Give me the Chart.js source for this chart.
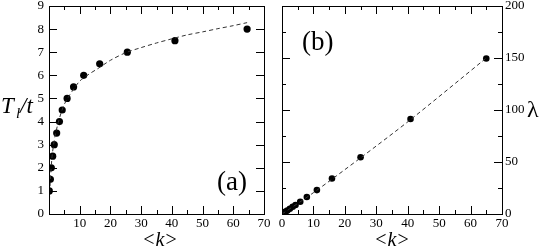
<!DOCTYPE html>
<html>
<head>
<meta charset="utf-8">
<script src="https://cdn.jsdelivr.net/npm/chart.js@4"></script>
<style>
  html, body { margin: 0; padding: 0; background: #fff; }
  #wrap { position: relative; width: 545px; height: 249px; }
  #left { position: absolute; left: 0; top: 0; }
  #right { position: absolute; left: 272px; top: 0; }
</style>
</head>
<body>
<div id="wrap">
  <canvas id="left" width="272" height="249"></canvas>
  <canvas id="right" width="273" height="249"></canvas>
</div>
<script>
// panel (a): T_l/t vs <k>
const kA = [0.1, 0.45, 0.75, 1.2, 1.7, 2.5, 3.4, 4.3, 5.9, 8.0, 11.3, 16.5, 25.5, 41, 64.5];
const tA = [1, 1.5, 2, 2.5, 3, 3.5, 4, 4.5, 5, 5.5, 6, 6.5, 7, 7.5, 8];
const fitKA = [0.15, 0.3, 0.5, 1, 1.5, 2, 3, 4, 5, 6.5, 8, 10, 13, 16, 20, 25, 30, 35, 40, 45, 50, 55, 60, 64.5];
const fitTA = [0.6, 1.1, 1.6, 2.5, 3.0, 3.4, 3.95, 4.4, 4.75, 5.1, 5.4, 5.75, 6.05, 6.3, 6.65, 6.98, 7.2, 7.4, 7.58, 7.75, 7.88, 8.02, 8.15, 8.28];

// panel (b): lambda vs <k>
const kB = [0.1, 0.45, 0.8, 1.2, 1.7, 2.5, 3.4, 4.3, 5.8, 7.9, 11.1, 15.9, 25, 40.9, 65];
const lamB = [0.2, 0.9, 1.6, 2.4, 3.4, 5.0, 6.9, 8.7, 11.8, 16.3, 23, 34.2, 54.6, 91.4, 149.5];
const fitKB = [0, 10, 25, 41, 65];
const fitLB = [0, 20.5, 54, 91, 150];

const SERIF = '"Liberation Serif", "DejaVu Serif", serif';

function pts(xs, ys) { return xs.map((x, i) => ({ x: x, y: ys[i] })); }

// frame + inward ticks on all four sides
function framePlugin(cfg) {
  return {
    id: 'frame',
    afterDraw(chart) {
      const ctx = chart.ctx;
      const a = chart.chartArea;
      const xs = chart.scales.x, ys = chart.scales.y;
      ctx.save();
      ctx.strokeStyle = '#000';
      ctx.lineWidth = 1;
      ctx.beginPath();
      for (let v = xs.min; v <= xs.max; v += cfg.xMinor) {
        const px = Math.round(xs.getPixelForValue(v)) + 0.5;
        const len = (Math.abs(v % cfg.xMajor) < 1e-6) ? 8 : 4;
        ctx.moveTo(px, a.bottom); ctx.lineTo(px, a.bottom - len);
        ctx.moveTo(px, a.top); ctx.lineTo(px, a.top + len);
      }
      for (let v = ys.min; v <= ys.max; v += cfg.yMinor) {
        const py = Math.round(ys.getPixelForValue(v)) + 0.5;
        const len = (Math.abs(v % cfg.yMajor) < 1e-6) ? 8 : 4;
        ctx.moveTo(a.left, py); ctx.lineTo(a.left + len, py);
        ctx.moveTo(a.right, py); ctx.lineTo(a.right - len, py);
      }
      ctx.stroke();
      ctx.strokeRect(Math.round(a.left) + 0.5, Math.round(a.top) + 0.5,
        Math.round(a.right - a.left), Math.round(a.bottom - a.top));
      ctx.restore();
      cfg.labels(ctx, a);
    }
  };
}

function drawK(ctx, cx, y) {
  ctx.font = '20px ' + SERIF;
  ctx.textBaseline = 'alphabetic';
  ctx.textAlign = 'left';
  const lt = ctx.measureText('<').width;
  ctx.font = 'italic 20px ' + SERIF;
  const kw = ctx.measureText('k').width;
  const total = lt * 2 + kw + 2;
  let x = cx - total / 2;
  ctx.font = '20px ' + SERIF;
  ctx.fillText('<', x, y); x += lt + 1;
  ctx.font = 'italic 20px ' + SERIF;
  ctx.fillText('k', x, y); x += kw + 1;
  ctx.font = '20px ' + SERIF;
  ctx.fillText('>', x, y);
}

function baseOptions(yPos, yMax, yStep, padding, yWidth, showX0) {
  const tickFont = { family: SERIF, size: 13 };
  return {
    responsive: false,
    animation: false,
    layout: { padding: padding },
    plugins: { legend: { display: false }, tooltip: { enabled: false } },
    scales: {
      x: {
        type: 'linear', min: 0, max: 70,
        grid: { display: false, drawTicks: false },
        border: { display: false },
        ticks: {
          stepSize: 10, color: '#000', font: tickFont, padding: 2, maxRotation: 0,
          callback: (v) => (v === 0 && !showX0) ? '' : v
        },
        afterFit: (s) => { s.height = 35; s.paddingLeft = 0; s.paddingRight = 0; }
      },
      y: {
        type: 'linear', position: yPos, min: 0, max: yMax,
        grid: { display: false, drawTicks: false },
        border: { display: false },
        ticks: { stepSize: yStep, color: '#000', font: tickFont, padding: yPos === 'left' ? 5 : 3 },
        afterFit: (s) => { s.width = yWidth; s.paddingTop = 0; s.paddingBottom = 0; }
      }
    }
  };
}

function datasets(kx, ky, fx, fy, r) {
  return [
    {
      type: 'line', data: pts(fx, fy), borderColor: '#333', borderWidth: 1,
      borderDash: [4, 3], pointRadius: 0, tension: 0.3, fill: false
    },
    {
      type: 'scatter', data: pts(kx, ky), pointRadius: r,
      pointBackgroundColor: '#000', pointBorderColor: '#000', borderWidth: 0
    }
  ];
}

new Chart(document.getElementById('left'), {
  type: 'scatter',
  data: { datasets: datasets(kA, tA, fitKA, fitTA, 3.6) },
  options: baseOptions('left', 9, 1, { left: 0, right: 8, top: 6, bottom: 0 }, 49, false),
  plugins: [framePlugin({
    xMajor: 10, xMinor: 5, yMajor: 1, yMinor: 1,
    labels: (ctx, a) => {
      ctx.save();
      ctx.fillStyle = '#000';
      drawK(ctx, 160, 246);
      ctx.textAlign = 'left';
      ctx.textBaseline = 'alphabetic';
      ctx.font = 'italic 23px ' + SERIF;
      ctx.fillText('T', 1, 113);
      ctx.font = 'italic 15px ' + SERIF;
      ctx.fillText('l', 16, 118);
      ctx.font = 'italic 23px ' + SERIF;
      ctx.fillText('/t', 20, 113);
      ctx.font = '27px ' + SERIF;
      ctx.fillText('(a)', 217, 190);
      ctx.restore();
    }
  })]
});

new Chart(document.getElementById('right'), {
  type: 'scatter',
  data: { datasets: datasets(kB, lamB, fitKB, fitLB, 3.3) },
  options: baseOptions('right', 200, 50, { left: 10, right: 0, top: 6, bottom: 0 }, 43, true),
  plugins: [framePlugin({
    xMajor: 10, xMinor: 5, yMajor: 50, yMinor: 25,
    labels: (ctx, a) => {
      ctx.save();
      ctx.fillStyle = '#000';
      drawK(ctx, 392 - 272, 246);
      ctx.textAlign = 'left';
      ctx.textBaseline = 'alphabetic';
      ctx.font = '27px ' + SERIF;
      ctx.fillText('(b)', 302 - 272, 50);
      ctx.font = '24px ' + SERIF;
      ctx.fillText('λ', 527 - 272, 117);
      ctx.restore();
    }
  })]
});
</script>
</body>
</html>
